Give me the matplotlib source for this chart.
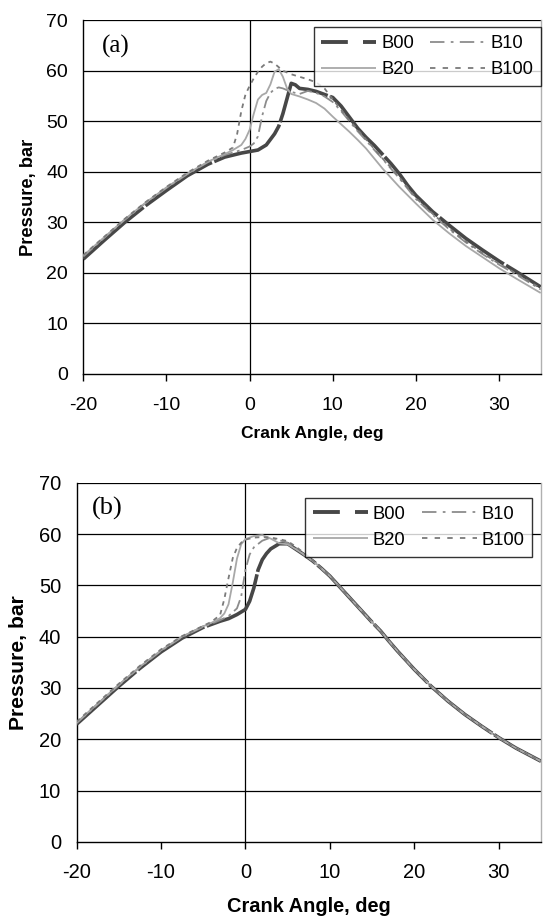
import matplotlib
matplotlib.use("Agg")
import matplotlib.pyplot as plt
from matplotlib.lines import Line2D

# ---------------- data: panel (a) ----------------
a_b00_x = [-20, -17.5, -15, -12.5, -10, -7.5, -5, -3, -2, -1, 0, 1, 2, 3, 3.5, 4, 4.5, 5, 5.5, 6, 7, 8, 9, 10,
           11, 12, 13, 14, 15, 16, 17, 18, 19, 20, 22, 24, 26, 28, 30, 32, 35]
a_b00_y = [22.7, 26.4, 30.0, 33.3, 36.3, 39.2, 41.5, 42.9, 43.3, 43.7, 44.0, 44.3, 45.3, 47.5, 49.0, 51.5, 54.5,
           57.5, 57.2, 56.5, 56.3, 55.9, 55.3, 54.7, 53.0, 50.8, 48.6, 46.8, 45.2, 43.4, 41.6, 39.6, 37.3, 35.3,
           32.1, 29.4, 26.8, 24.5, 22.3, 20.3, 17.2]

a_b10_x = [-20, -17.5, -15, -12.5, -10, -7.5, -5, -3, -2, -1, 0, 0.5, 1, 1.5, 2, 2.5, 3, 3.5, 4, 5, 6, 7, 8, 9,
           10, 11, 12, 13, 14, 15, 16, 17, 18, 20, 22, 24, 26, 28, 30, 32, 35]
a_b10_y = [23.2, 26.9, 30.5, 33.8, 36.8, 39.5, 41.9, 43.3, 43.8, 44.3, 45.0, 45.6, 47.0, 51.0, 54.0, 55.6, 56.4,
           56.7, 56.5, 55.8, 55.4, 56.0, 55.6, 54.9, 53.8, 52.0, 50.0, 48.0, 46.2, 44.3, 42.5, 40.6, 38.7, 34.6,
           31.5, 28.6, 26.0, 23.7, 21.6, 19.7, 16.7]

a_b20_x = [-20, -17.5, -15, -12.5, -10, -7.5, -5, -3, -2, -1, -0.5, 0, 0.5, 1, 1.5, 2, 2.5, 3, 3.5, 4, 4.5, 5, 6,
           7, 8, 9, 10, 11, 12, 13, 14, 15, 16, 17, 18, 20, 22, 24, 26, 28, 30, 32, 35]
a_b20_y = [23.4, 27.0, 30.6, 33.9, 36.9, 39.6, 42.0, 43.5, 44.3, 45.3, 46.5, 48.3, 51.5, 54.3, 55.2, 55.6, 57.3,
           59.8, 60.3, 58.8, 56.5, 55.4, 54.9, 54.3, 53.6, 52.5, 50.9, 49.4, 47.9, 46.3, 44.6, 42.6, 40.6, 38.8,
           37.0, 33.7, 30.5, 27.8, 25.3, 23.1, 20.9, 18.9, 16.0]

a_b100_x = [-20, -17.5, -15, -12.5, -10, -7.5, -5, -3, -2, -1.5, -1, -0.5, 0, 0.5, 1, 1.5, 2, 2.5, 3, 3.5, 4, 5,
            6, 7, 8, 9, 10, 11, 12, 13, 14, 15, 16, 17, 18, 20, 22, 24, 26, 28, 30, 32, 35]
a_b100_y = [23.5, 27.1, 30.7, 34.0, 37.0, 39.8, 42.2, 43.8, 44.8, 47.5, 52.0, 55.3, 57.0, 58.5, 59.8, 60.8, 61.5,
            61.8, 61.4, 60.7, 60.0, 59.3, 58.8, 58.3, 57.7, 56.5, 54.3, 52.3, 50.2, 48.3, 46.4, 44.5, 42.6, 40.8,
            38.9, 34.8, 31.7, 28.8, 26.2, 23.9, 21.8, 19.9, 16.9]

# ---------------- data: panel (b) ----------------
b_b00_x = [-20, -17.5, -15, -12.5, -10, -7.5, -5, -4, -3, -2, -1, 0, 0.5, 1, 1.5, 2, 2.5, 3, 4, 5, 6, 7, 8, 9,
           10, 11, 12, 13, 14, 15, 16, 17, 18, 19, 20, 22, 24, 26, 28, 30, 32, 35]
b_b00_y = [22.9, 26.6, 30.3, 33.8, 37.0, 39.7, 41.8, 42.4, 43.0, 43.5, 44.3, 45.3, 46.9, 49.5, 53.0, 55.0, 56.2,
           57.1, 58.1, 58.1, 57.0, 55.9, 54.7, 53.3, 51.8, 50.0, 48.2, 46.4, 44.6, 42.8, 41.1, 39.1, 37.2, 35.4,
           33.6, 30.3, 27.4, 24.8, 22.5, 20.3, 18.3, 15.7]

b_b10_x = [-20, -17.5, -15, -12.5, -10, -7.5, -5, -4, -3, -2, -1, -0.5, 0, 0.5, 1, 2, 3, 4, 5, 6, 7, 8, 9, 10,
           11, 12, 13, 14, 15, 16, 17, 18, 19, 20, 22, 24, 26, 28, 30, 32, 35]
b_b10_y = [23.1, 26.8, 30.5, 34.0, 37.2, 39.9, 41.9, 42.5, 43.2, 44.0, 45.5, 47.8, 53.0, 56.0, 57.4, 58.7, 59.3,
           58.8, 58.3, 57.1, 55.9, 54.7, 53.3, 51.8, 50.0, 48.2, 46.4, 44.6, 42.8, 41.1, 39.1, 37.2, 35.4, 33.6,
           30.3, 27.4, 24.8, 22.5, 20.3, 18.3, 15.7]

b_b20_x = [-20, -17.5, -15, -12.5, -10, -7.5, -5, -4, -3, -2.5, -2, -1.5, -1, -0.5, 0, 1, 2, 3, 4, 5, 6, 7, 8, 9,
           10, 11, 12, 13, 14, 15, 16, 17, 18, 19, 20, 22, 24, 26, 28, 30, 32, 35]
b_b20_y = [23.2, 26.9, 30.6, 34.1, 37.3, 40.0, 42.0, 42.7, 43.6, 44.5, 46.3, 50.5, 55.2, 58.0, 59.0, 59.6, 59.8,
           59.1, 58.2, 58.0, 57.0, 55.9, 54.7, 53.3, 51.8, 50.0, 48.2, 46.4, 44.6, 42.8, 41.1, 39.1, 37.2, 35.4,
           33.6, 30.3, 27.4, 24.8, 22.5, 20.3, 18.3, 15.7]

b_b100_x = [-20, -17.5, -15, -12.5, -10, -7.5, -5, -4, -3, -2.5, -2, -1.5, -1, -0.5, 0, 1, 2, 3, 4, 5, 6, 7, 8,
            9, 10, 11, 12, 13, 14, 15, 16, 17, 18, 19, 20, 22, 24, 26, 28, 30, 32, 35]
b_b100_y = [23.4, 27.1, 30.8, 34.3, 37.5, 40.1, 42.1, 42.9, 44.2, 47.3, 51.4, 55.3, 57.3, 58.3, 58.9, 59.3, 59.4,
            59.3, 59.0, 58.6, 57.5, 56.2, 54.8, 53.3, 51.8, 50.0, 48.2, 46.4, 44.6, 42.8, 41.1, 39.1, 37.2, 35.4,
            33.6, 30.3, 27.4, 24.8, 22.5, 20.3, 18.3, 15.7]

series_names = ["B00", "B10", "B20", "B100"]
x_ticks = [-20, -10, 0, 10, 20, 30]
y_ticks = [0, 10, 20, 30, 40, 50, 60, 70]
panel_labels = ["(a)", "(b)"]
x_label = "Crank Angle, deg"
y_label = "Pressure, bar"

# ---------------- styles ----------------
styles = {
    "B00": dict(color="#474747", lw=2.6, dashes=(22, 0.7)),
    "B10": dict(color="#8c8c8c", lw=1.3, dashes=(7, 2.5, 1.5, 2.5)),
    "B20": dict(color="#a8a8a8", lw=1.3, dashes=()),
    "B100": dict(color="#7a7a7a", lw=1.3, dashes=(2.5, 2.5)),
}
legend_styles = {
    "B00": dict(color="#474747", lw=2.8, dashes=(6.9, 3.9)),
    "B10": dict(color="#8c8c8c", lw=1.3, dashes=(8, 3.5, 1.5, 3.5)),
    "B20": dict(color="#a8a8a8", lw=1.3, dashes=()),
    "B100": dict(color="#7a7a7a", lw=1.3, dashes=(3, 4)),
}

plt.rcParams["font.family"] = ["Liberation Sans", "DejaVu Sans"]
plt.rcParams["axes.unicode_minus"] = False

W, H = 544, 916
fig = plt.figure(figsize=(W / 100, H / 100), dpi=100)


def px_rect(l, r, t, b):
    return [l / W, 1 - b / H, (r - l) / W, (b - t) / H]


panels = [
    dict(rect=px_rect(83.3, 540.7, 20.2, 373.8),
         data=[(a_b00_x, a_b00_y), (a_b10_x, a_b10_y), (a_b20_x, a_b20_y), (a_b100_x, a_b100_y)],
         tick_fs=14, xlab_fs=12.5, ylab_fs=13.2, leg_fs=13.2,
         leg_anchor=(540.7, 27.3), lab_pos=(101.5, 46.7), lab_fs=18,
         xlab_y=433.5, ylab_x=28, xpad=12, ypad=11),
    dict(rect=px_rect(76.5, 541, 482.7, 841.8),
         data=[(b_b00_x, b_b00_y), (b_b10_x, b_b10_y), (b_b20_x, b_b20_y), (b_b100_x, b_b100_y)],
         tick_fs=14.5, xlab_fs=14.4, ylab_fs=15.2, leg_fs=13.2,
         leg_anchor=(532, 498), lab_pos=(91.5, 508.3), lab_fs=19,
         xlab_y=906, ylab_x=19, xpad=10.5, ypad=11),
]

for i, p in enumerate(panels):
    ax = fig.add_axes(p["rect"])
    for name, (xs, ys) in zip(series_names, p["data"]):
        st = styles[name]
        ax.plot(xs, ys, color=st["color"], lw=st["lw"], dashes=st["dashes"],
                solid_capstyle="butt", dash_capstyle="butt", zorder=3)
    ax.set_xlim(-20, 35)
    ax.set_ylim(0, 70)
    ax.set_xticks(x_ticks)
    ax.set_yticks(y_ticks)
    ax.tick_params(axis="x", direction="out", length=5, width=1, pad=p["xpad"],
                   labelsize=p["tick_fs"], color="black")
    ax.tick_params(axis="y", length=0, pad=p["ypad"], labelsize=p["tick_fs"])
    for yv in y_ticks[1:]:
        ax.axhline(yv, color="black", lw=0.9, zorder=1)
    ax.axvline(0, color="black", lw=0.9, zorder=1)
    ax.spines["left"].set_linewidth(1.0)
    ax.spines["bottom"].set_linewidth(1.0)
    ax.spines["top"].set_visible(False)
    ax.spines["right"].set_color("#b0b0b0")
    ax.spines["right"].set_linewidth(1.0)

    # legend (proxy handles show the long-dash patterns)
    handles = {}
    for name in series_names:
        st = legend_styles[name]
        handles[name] = Line2D([], [], color=st["color"], lw=st["lw"], dashes=st["dashes"],
                               dash_capstyle="butt", solid_capstyle="butt")
    order = ["B00", "B20", "B10", "B100"]
    lx, ly = p["leg_anchor"]
    leg = ax.legend([handles[n] for n in order], order, ncol=2, loc="upper right",
                    bbox_to_anchor=(lx / W, 1 - ly / H), bbox_transform=fig.transFigure,
                    fontsize=p["leg_fs"], frameon=True, fancybox=False, handlelength=3.0,
                    handletextpad=0.26, columnspacing=0.9, borderpad=0.42, labelspacing=0.5,
                    borderaxespad=0)
    leg.get_frame().set_edgecolor("black")
    leg.get_frame().set_linewidth(1.0)
    leg.set_zorder(5)

    fig.text(p["lab_pos"][0] / W, 1 - p["lab_pos"][1] / H, panel_labels[i],
             family=["Liberation Serif", "DejaVu Serif"], fontsize=p["lab_fs"],
             ha="left", va="center")
    cx = (p["rect"][0] + p["rect"][2] / 2)
    fig.text(cx, 1 - p["xlab_y"] / H, x_label, fontsize=p["xlab_fs"], fontweight="bold",
             ha="center", va="center")
    cy = p["rect"][1] + p["rect"][3] / 2
    fig.text(p["ylab_x"] / W, cy, y_label, fontsize=p["ylab_fs"], fontweight="bold",
             ha="center", va="center", rotation=90)

fig.savefig("out.png", dpi=100, facecolor="white")
